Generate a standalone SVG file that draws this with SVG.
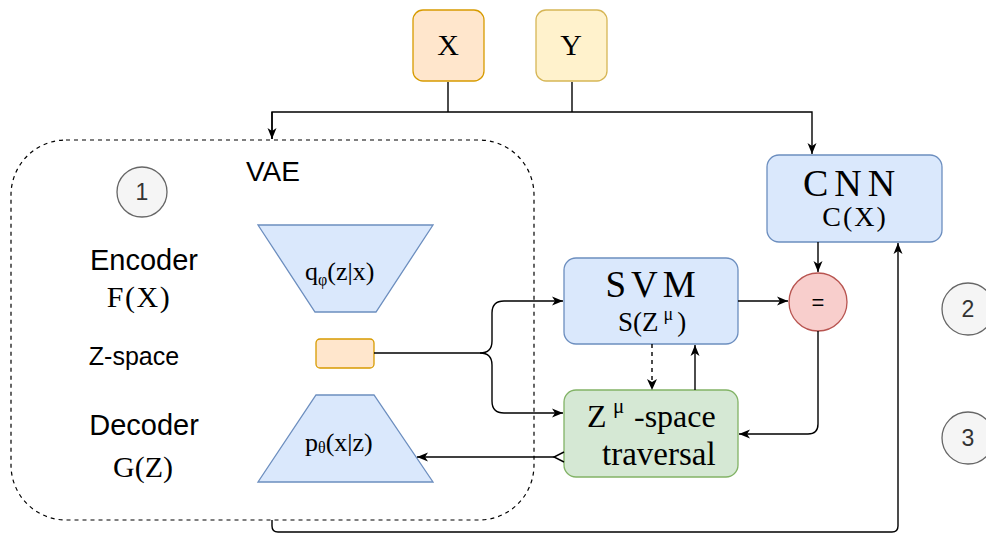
<svg xmlns="http://www.w3.org/2000/svg" width="986" height="534" viewBox="0 0 986 534">
<style>
.serif{font-family:"Liberation Serif","Times New Roman",serif;fill:#000}
.sans{font-family:"Liberation Sans",Arial,sans-serif;fill:#000}
.blue{fill:#dae8fc;stroke:#6c8ebf;stroke-width:1.3}
.num{fill:#f5f5f5;stroke:#666;stroke-width:1.3}
.numt{font-family:"Liberation Sans",Arial,sans-serif;fill:#333;font-size:23px;text-anchor:middle}
.conn{fill:none;stroke:#000;stroke-width:1.4}
</style>
<defs>
<marker id="arr" markerUnits="userSpaceOnUse" markerWidth="12" markerHeight="10" refX="11" refY="5" orient="auto">
<path d="M0,0.5 L11,5 L0,9.5 L3,5 Z" fill="#000"/>
</marker>
</defs>

<g id="vae">
<rect x="11" y="140" width="523" height="380" rx="55" fill="none" stroke="#000" stroke-width="1.2" stroke-dasharray="4 4"/>
<text class="sans" x="273" y="181" font-size="28" text-anchor="middle">VAE</text>
</g>

<g id="n1"><circle class="num" cx="142" cy="192" r="25"/><text class="numt" x="142" y="200">1</text></g>
<g id="n2"><circle class="num" cx="968" cy="309" r="26"/><text class="numt" x="968" y="317">2</text></g>
<g id="n3"><circle class="num" cx="968" cy="438" r="26"/><text class="numt" x="968" y="446">3</text></g>

<g id="labels">
<text class="sans" x="144" y="270" font-size="29" text-anchor="middle">Encoder</text>
<text class="serif" x="139" y="307" font-size="30" text-anchor="middle" letter-spacing="1.5">F(X)</text>
<text class="sans" x="134" y="365" font-size="25" text-anchor="middle">Z-space</text>
<text class="sans" x="144" y="435" font-size="29" text-anchor="middle">Decoder</text>
<text class="serif" x="143" y="477" font-size="30" text-anchor="middle">G(Z)</text>
</g>

<g id="x">
<rect x="413" y="10" width="71" height="71" rx="10" fill="#ffe6cc" stroke="#d79b00" stroke-width="1.3"/>
<text class="serif" x="448" y="55" font-size="30" text-anchor="middle">X</text>
</g>
<g id="y">
<rect x="536" y="10" width="71" height="71" rx="10" fill="#fff2cc" stroke="#d6b656" stroke-width="1.3"/>
<text class="serif" x="571" y="55" font-size="30" text-anchor="middle">Y</text>
</g>

<g id="cnn">
<rect class="blue" x="767" y="155" width="175" height="87" rx="12"/>
<text class="serif" x="852" y="196" font-size="38" text-anchor="middle" letter-spacing="6">CNN</text>
<text class="serif" x="855" y="226" font-size="28" text-anchor="middle" letter-spacing="2">C(X)</text>
</g>

<g id="eq">
<circle cx="818" cy="302" r="29" fill="#f8cecc" stroke="#b85450" stroke-width="1.3"/>
<text class="sans" x="818" y="310" font-size="22" text-anchor="middle">=</text>
</g>

<g id="svm">
<rect class="blue" x="564" y="258" width="174" height="86" rx="12"/>
<text class="serif" x="653" y="297" font-size="37" text-anchor="middle" letter-spacing="5">SVM</text>
<text class="serif" x="618" y="331" font-size="27">S(Z<tspan font-size="18" dx="5" dy="-11">μ</tspan><tspan dx="4" dy="11">)</tspan></text>
</g>

<g id="traversal">
<rect x="564" y="390" width="174" height="87" rx="12" fill="#d5e8d4" stroke="#82b366" stroke-width="1.3"/>
<text class="serif" x="587" y="427" font-size="32">Z</text>
<text class="serif" x="613" y="413" font-size="21">μ</text>
<text class="serif" x="634" y="427" font-size="32">-space</text>
<text class="serif" x="602" y="465" font-size="33">traversal</text>
</g>

<g id="encoder">
<path class="blue" d="M258,225 L433,225 L376,312 L315,312 Z"/>
<text class="serif" x="305" y="280" font-size="26">q<tspan font-size="16" dy="5">φ</tspan><tspan dy="-5">(z|x)</tspan></text>
</g>

<g id="zspace">
<rect x="316" y="339" width="58" height="29" rx="4" fill="#ffe6cc" stroke="#d79b00" stroke-width="1.3"/>
</g>

<g id="decoder">
<path class="blue" d="M316,395 L374,395 L433,482 L258,482 Z"/>
<text class="serif" x="305" y="451" font-size="26">p<tspan font-size="16" dy="2">θ</tspan><tspan dy="-2">(x|z)</tspan></text>
</g>

<g id="connectors">
<path class="conn" d="M448,82 V112"/>
<path class="conn" d="M572,82 V112"/>
<path class="conn" d="M272,139 V112 H812 V154" marker-end="url(#arr)"/>
<path class="conn" d="M272,112 V139" marker-end="url(#arr)"/>
<path class="conn" d="M818,242 V272" marker-end="url(#arr)"/>
<path class="conn" d="M738,301 H788" marker-end="url(#arr)"/>
<path class="conn" d="M818,331 V424 Q818,434 808,434 H739" marker-end="url(#arr)"/>
<path class="conn" d="M652,344 V389" stroke-dasharray="4 4"/>
<path d="M647,379 L652,390 L657,379 L652,382 Z" fill="#000"/>
<path class="conn" d="M695,390 V345" marker-end="url(#arr)"/>
<path class="conn" d="M374,353 H480 Q492,353 492,341 V313 Q492,301 504,301 H563" marker-end="url(#arr)"/>
<path class="conn" d="M480,353 Q492,353 492,365 V401 Q492,413 504,413 H563" marker-end="url(#arr)"/>
<path class="conn" d="M556,457 H417" marker-end="url(#arr)"/>
<path class="conn" d="M564,452 L554,457 L564,462"/>
<path class="conn" d="M272,520 V526 Q272,532 278,532 H892 Q898,532 898,526 V243" marker-end="url(#arr)"/>
</g>
</svg>
